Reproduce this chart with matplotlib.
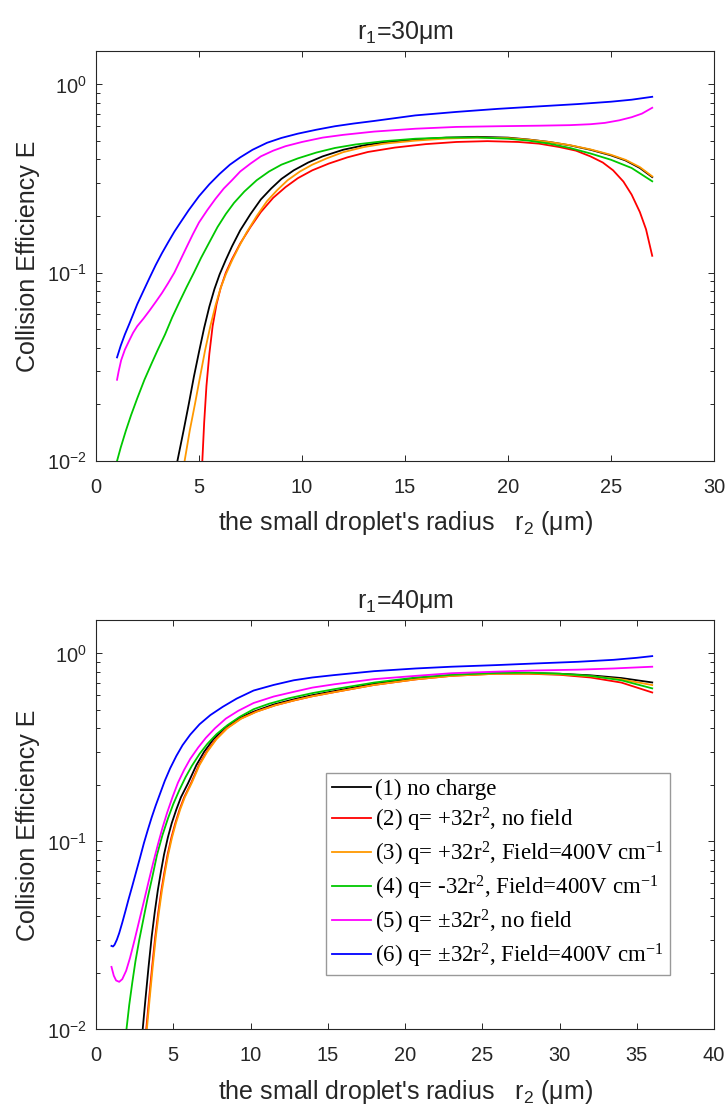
import numpy as np
import matplotlib
matplotlib.use('Agg')
from matplotlib import pyplot as plt

plt.rcParams['font.family'] = 'Liberation Sans'
plt.rcParams['mathtext.fontset'] = 'custom'
plt.rcParams['mathtext.rm'] = 'Liberation Sans'

# r1 = 30 um
x30_1 = [3.95, 4.25, 4.5, 4.75, 5.0, 5.25, 5.5, 5.75, 6.0, 6.3, 6.6, 7.0, 7.5, 8.0, 8.5, 9.0, 9.6, 10.3, 11.0, 12.0, 13.0, 14.0, 15.5, 17.0, 18.5, 20.0, 21.0, 22.0, 23.0, 24.0, 25.0, 25.7, 26.4, 27.0]
E30_1 = [0.010, 0.0145, 0.020, 0.028, 0.038, 0.051, 0.066, 0.082, 0.098, 0.117, 0.138, 0.168, 0.205, 0.245, 0.28, 0.315, 0.35, 0.385, 0.415, 0.45, 0.475, 0.493, 0.51, 0.522, 0.527, 0.522, 0.51, 0.495, 0.475, 0.45, 0.42, 0.395, 0.36, 0.322]
x30_2 = [5.16, 5.25, 5.36, 5.5, 5.66, 5.85, 6.05, 6.3, 6.6, 7.0, 7.5, 8.0, 8.6, 9.2, 9.8, 10.5, 11.3, 12.2, 13.2, 14.5, 16.0, 17.5, 19.0, 20.5, 21.5, 22.5, 23.3, 24.0, 24.6, 25.1, 25.6, 26.0, 26.4, 26.7, 27.0]
E30_2 = [0.010, 0.016, 0.025, 0.037, 0.052, 0.068, 0.083, 0.100, 0.118, 0.143, 0.175, 0.21, 0.25, 0.285, 0.318, 0.35, 0.38, 0.41, 0.438, 0.462, 0.482, 0.495, 0.50, 0.495, 0.485, 0.465, 0.445, 0.415, 0.385, 0.35, 0.305, 0.26, 0.21, 0.17, 0.123]
x30_3 = [4.3, 4.55, 4.8, 5.05, 5.3, 5.55, 5.8, 6.05, 6.3, 6.6, 6.9, 7.3, 7.8, 8.3, 8.8, 9.3, 9.9, 10.5, 11.2, 12.0, 13.0, 14.0, 15.5, 17.0, 18.5, 20.0, 21.0, 22.0, 23.0, 24.0, 25.0, 25.7, 26.4, 27.0]
E30_3 = [0.010, 0.0145, 0.020, 0.028, 0.039, 0.052, 0.067, 0.083, 0.098, 0.116, 0.135, 0.163, 0.20, 0.24, 0.275, 0.31, 0.345, 0.375, 0.405, 0.437, 0.465, 0.485, 0.503, 0.516, 0.522, 0.519, 0.509, 0.495, 0.476, 0.452, 0.423, 0.398, 0.364, 0.325]
x30_4 = [1.02, 1.2, 1.45, 1.7, 2.0, 2.35, 2.7, 3.0, 3.35, 3.7, 4.05, 4.4, 4.75, 5.1, 5.5, 5.9, 6.3, 6.7, 7.2, 7.8, 8.4, 9.0, 9.8, 10.7, 11.6, 12.6, 14.0, 15.5, 17.0, 18.5, 20.0, 21.0, 22.0, 23.0, 24.0, 25.0, 26.0, 27.0]
E30_4 = [0.010, 0.0118, 0.0145, 0.0175, 0.0215, 0.027, 0.033, 0.039, 0.047, 0.058, 0.07, 0.084, 0.10, 0.12, 0.145, 0.175, 0.205, 0.235, 0.27, 0.31, 0.345, 0.375, 0.405, 0.435, 0.46, 0.48, 0.50, 0.515, 0.522, 0.523, 0.515, 0.503, 0.485, 0.46, 0.43, 0.398, 0.36, 0.306]
x30_5 = [1.02, 1.1, 1.22, 1.4, 1.62, 1.8, 2.0, 2.3, 2.6, 2.9, 3.2, 3.5, 3.8, 4.1, 4.4, 4.7, 5.0, 5.4, 5.8, 6.2, 6.6, 7.0, 7.5, 8.0, 8.6, 9.2, 10.0, 11.0, 12.0, 13.5, 15.5, 17.5, 19.5, 21.5, 23.0, 24.0, 24.7, 25.4, 26.0, 26.5, 27.0]
E30_5 = [0.027, 0.030, 0.0343, 0.039, 0.0438, 0.048, 0.052, 0.057, 0.063, 0.070, 0.078, 0.088, 0.100, 0.117, 0.137, 0.160, 0.185, 0.215, 0.247, 0.28, 0.31, 0.345, 0.38, 0.415, 0.445, 0.47, 0.495, 0.522, 0.54, 0.562, 0.582, 0.595, 0.60, 0.604, 0.608, 0.615, 0.625, 0.645, 0.67, 0.70, 0.752]
x30_6 = [1.02, 1.2, 1.4, 1.6, 1.8, 2.0, 2.3, 2.6, 2.9, 3.2, 3.5, 3.8, 4.1, 4.5, 5.0, 5.5, 6.0, 6.5, 7.0, 7.6, 8.3, 9.0, 9.8, 10.7, 11.6, 12.5, 13.5, 15.5, 17.5, 19.5, 21.5, 23.4, 25.0, 26.0, 27.0]
E30_6 = [0.0355, 0.041, 0.047, 0.053, 0.060, 0.068, 0.080, 0.094, 0.11, 0.127, 0.145, 0.165, 0.185, 0.215, 0.255, 0.295, 0.335, 0.375, 0.41, 0.45, 0.49, 0.52, 0.548, 0.575, 0.60, 0.62, 0.64, 0.685, 0.715, 0.742, 0.765, 0.787, 0.81, 0.83, 0.86]

# r1 = 40 um
x40_1 = [3.02, 3.2, 3.4, 3.6, 3.8, 4.0, 4.2, 4.4, 4.65, 4.9, 5.2, 5.5, 5.97, 6.5, 7.0, 7.6, 8.3, 9.2, 10.2, 11.5, 12.8, 14.0, 15.4, 18.0, 20.7, 23.0, 25.9, 28.0, 30.0, 32.0, 34.0, 36.0]
E40_1 = [0.010, 0.0145, 0.0215, 0.031, 0.042, 0.055, 0.069, 0.085, 0.105, 0.125, 0.148, 0.172, 0.205, 0.255, 0.30, 0.35, 0.40, 0.45, 0.49, 0.535, 0.57, 0.60, 0.63, 0.69, 0.735, 0.765, 0.785, 0.787, 0.78, 0.765, 0.74, 0.701]
x40_2 = [3.25, 3.43, 3.63, 3.83, 4.03, 4.23, 4.43, 4.63, 4.88, 5.13, 5.41, 5.71, 6.16, 6.66, 7.16, 7.76, 8.46, 9.36, 10.36, 11.6, 12.8, 14.0, 15.4, 18.0, 20.7, 23.0, 25.9, 28.0, 30.0, 32.0, 34.0, 36.0]
E40_2 = [0.010, 0.0145, 0.0215, 0.031, 0.042, 0.055, 0.069, 0.085, 0.105, 0.125, 0.148, 0.172, 0.205, 0.255, 0.30, 0.35, 0.40, 0.45, 0.49, 0.53, 0.562, 0.592, 0.622, 0.68, 0.728, 0.76, 0.78, 0.78, 0.77, 0.745, 0.70, 0.62]
x40_3 = [3.29, 3.47, 3.67, 3.87, 4.07, 4.27, 4.47, 4.67, 4.92, 5.17, 5.45, 5.75, 6.2, 6.7, 7.2, 7.8, 8.5, 9.4, 10.4, 11.6, 12.8, 14.0, 15.4, 18.0, 20.7, 23.0, 25.9, 28.0, 30.0, 32.0, 34.0, 36.0]
E40_3 = [0.010, 0.0145, 0.0215, 0.031, 0.042, 0.055, 0.069, 0.085, 0.105, 0.125, 0.148, 0.172, 0.205, 0.255, 0.30, 0.35, 0.40, 0.45, 0.49, 0.53, 0.562, 0.592, 0.622, 0.68, 0.728, 0.76, 0.78, 0.782, 0.775, 0.757, 0.728, 0.679]
x40_4 = [1.97, 2.15, 2.35, 2.55, 2.8, 3.05, 3.34, 3.65, 3.95, 4.3, 4.65, 5.0, 5.4, 5.8, 6.2, 6.7, 7.2, 7.8, 8.5, 9.3, 10.2, 11.2, 12.5, 14.0, 15.4, 18.0, 20.7, 23.0, 25.9, 28.0, 30.0, 32.0, 34.0, 36.0]
E40_4 = [0.010, 0.0135, 0.0178, 0.023, 0.030, 0.038, 0.05, 0.065, 0.085, 0.108, 0.132, 0.158, 0.188, 0.22, 0.252, 0.292, 0.33, 0.372, 0.415, 0.46, 0.505, 0.54, 0.578, 0.615, 0.645, 0.70, 0.745, 0.77, 0.787, 0.79, 0.78, 0.76, 0.72, 0.652]
x40_5 = [1.0, 1.15, 1.3, 1.5, 1.7, 1.95, 2.2, 2.5, 2.8, 3.1, 3.4, 3.7, 4.0, 4.3, 4.6, 4.95, 5.3, 5.7, 6.1, 6.6, 7.1, 7.7, 8.4, 9.2, 10.2, 11.5, 12.8, 14.0, 15.4, 18.0, 20.7, 23.0, 25.9, 28.5, 31.2, 33.5, 36.0]
E40_5 = [0.0215, 0.0193, 0.0182, 0.0179, 0.0185, 0.0205, 0.024, 0.03, 0.038, 0.048, 0.061, 0.077, 0.096, 0.118, 0.142, 0.172, 0.205, 0.24, 0.275, 0.315, 0.355, 0.40, 0.45, 0.495, 0.545, 0.59, 0.625, 0.658, 0.685, 0.73, 0.76, 0.785, 0.80, 0.812, 0.82, 0.832, 0.85]
x40_6 = [1.0, 1.1, 1.2, 1.35, 1.5, 1.7, 1.9, 2.1, 2.35, 2.6, 2.85, 3.1, 3.35, 3.6, 3.86, 4.15, 4.45, 4.8, 5.2, 5.6, 6.1, 6.7, 7.4, 8.2, 9.1, 10.2, 11.5, 12.8, 14.0, 15.4, 18.0, 20.7, 23.0, 25.9, 28.5, 31.2, 33.5, 35.0, 36.0]
E40_6 = [0.0278, 0.0276, 0.0282, 0.030, 0.0325, 0.037, 0.0425, 0.049, 0.058, 0.069, 0.082, 0.098, 0.115, 0.134, 0.155, 0.18, 0.21, 0.245, 0.285, 0.325, 0.37, 0.42, 0.47, 0.52, 0.575, 0.635, 0.68, 0.72, 0.745, 0.767, 0.805, 0.832, 0.85, 0.867, 0.885, 0.903, 0.925, 0.948, 0.968]

colors = ['k', '#FF0000', '#FF9900', '#00C800', '#FF00FF', '#0000FF']
labels = ['(1) no charge',
          r'(2) q= +32r$\mathregular{^2}$, no field',
          r'(3) q= +32r$\mathregular{^2}$, Field=400V cm$\mathregular{^{-1}}$',
          r'(4) q= -32r$\mathregular{^2}$, Field=400V cm$\mathregular{^{-1}}$',
          r'(5) q= ±32r$\mathregular{^2}$, no field',
          r'(6) q= ±32r$\mathregular{^2}$, Field=400V cm$\mathregular{^{-1}}$']

top = [(x30_1, E30_1), (x30_2, E30_2), (x30_3, E30_3), (x30_4, E30_4), (x30_5, E30_5), (x30_6, E30_6)]
bot = [(x40_1, E40_1), (x40_2, E40_2), (x40_3, E40_3), (x40_4, E40_4), (x40_5, E40_5), (x40_6, E40_6)]

fig = plt.figure(figsize=(7.28, 11.06), dpi=100)
ax1 = fig.add_axes([0.1319, 0.5832, 0.8489, 0.3704])
ax2 = fig.add_axes([0.1319, 0.0693, 0.8489, 0.3698])

def style(ax, xmax, title):
    ax.set_yscale('log')
    ax.set_xlim(0, xmax)
    ax.set_ylim(0.01, 1.5)
    ax.set_xticks(np.arange(0, xmax + 1, 5))
    ax.tick_params(which='both', direction='in', top=True, right=True, colors='#262626', width=0.7)
    ax.tick_params(which='major', length=4.3, labelsize=14.4)
    ax.tick_params(which='minor', length=2.7)
    ax.tick_params(axis='x', pad=12)
    ax.tick_params(axis='y', pad=7)
    for s in ax.spines.values():
        s.set_color('#262626')
        s.set_linewidth(0.8)
    ax.set_title(title, fontsize=18, color='#262626', pad=9)
    ax.set_xlabel("the small droplet's radius   r$\\mathregular{_2}$ (μm)", fontsize=18, color='#262626', labelpad=9)
    ax.set_ylabel('Collision Efficiency E', fontsize=18, color='#262626', labelpad=5)

for (x, E), c, lab in zip(top, colors, labels):
    ax1.plot(x, E, color=c, lw=1.3, label=lab)
for (x, E), c, lab in zip(bot, colors, labels):
    ax2.plot(x, E, color=c, lw=1.3, label=lab)

style(ax1, 30, 'r$\\mathregular{_1}$=30μm')
style(ax2, 40, 'r$\\mathregular{_1}$=40μm')

leg = ax2.legend(loc='lower left', bbox_to_anchor=(0.372, 0.132), borderaxespad=0,
                 prop={'family': 'Liberation Serif', 'size': 16.5}, frameon=True, fancybox=False,
                 handlelength=1.7, handletextpad=0.2, labelspacing=0.25, borderpad=0.25)
leg.get_frame().set_edgecolor('#808080')
leg.get_frame().set_linewidth(1.0)

plt.savefig('out.png', dpi=100)
